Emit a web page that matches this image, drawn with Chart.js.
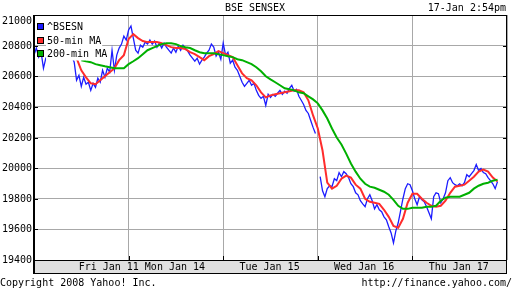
<!DOCTYPE html>
<html>
<head>
<meta charset="utf-8">
<script src="https://cdn.jsdelivr.net/npm/chart.js@4.4.0/dist/chart.umd.min.js"></script>
<style>
  html, body { margin: 0; padding: 0; background: #fff; }
  #wrap { width: 512px; height: 288px; }
</style>
</head>
<body>
<div id="wrap"><canvas id="chart" width="512" height="288"></canvas></div>
<script>
// time axis is in trading days since Fri Jan 11 open
const dayLabels = ["Fri Jan 11", "Mon Jan 14", "Tue Jan 15", "Wed Jan 16", "Thu Jan 17"];
const dayLabelPos = [0.79, 1.49, 2.49, 3.49, 4.49];
const yTicks = [19400, 19600, 19800, 20000, 20200, 20400, 20600, 20800, 21000];

const seriesNames = ["^BSESN", "50-min MA", "200-min MA"];
const seriesColors = ["#1c1cff", "#ff2c2c", "#00b000"];

// ^BSESN, sampled every 0.025 day
const blueStart = 0;
const blueStep = 0.025;
const blueValues = [
  20738, 20784, 20725, 20757, 20652, 20718, 20718,
  20738, 20757, 20731, 20751, 20725, 20744, 20731, 20738, 20725, 20731,
  20692, 20574, 20606, 20534, 20593, 20548, 20561, 20508, 20554, 20528,
  20587, 20561, 20639, 20593, 20652, 20626, 20770, 20639, 20738, 20784,
  20810, 20862, 20836, 20902, 20928, 20849, 20770, 20751, 20803, 20790,
  20823, 20810, 20836, 20810, 20830, 20790, 20816, 20784, 20816, 20790,
  20770, 20751, 20784, 20757, 20797, 20770, 20803, 20784, 20764, 20738,
  20718, 20698, 20718, 20679, 20705, 20725, 20751, 20770, 20810, 20790,
  20731, 20757, 20711, 20816, 20738, 20757, 20685, 20705, 20659, 20639,
  20600, 20561, 20534, 20554, 20574, 20541, 20554, 20508, 20475, 20456,
  20469, 20410, 20482, 20462, 20482, 20469, 20489, 20508, 20482, 20502,
  20489, 20521, 20541, 20502, 20515, 20469, 20443, 20416, 20377, 20357,
  20311, 20266, 20226, null, 19944, 19852, 19813, 19866, 19885, 19879,
  19931, 19918, 19971, 19944, 19977, 19964, 19938, 19898, 19879, 19839,
  19826, 19787, 19767, 19748, 19800, 19826, 19787, 19734, 19761, 19728,
  19715, 19682, 19662, 19617, 19577, 19512, 19590, 19643, 19721, 19800,
  19866, 19898, 19892, 19852, 19800, 19761, 19813, 19793, 19780, 19748,
  19708, 19669, 19813, 19839, 19833, 19774, 19800, 19839, 19918, 19938,
  19905, 19892, 19885, 19898, 19885, 19905, 19957, 19944, 19964, 19984,
  20023, 19984, 19997, 19971, 19964, 19938, 19918, 19898, 19866, 19912
];

// 50-min MA, every 0.05 day
const redStart = 0.45;
const redStep = 0.05;
const redValues = [
  20718, 20639, 20593, 20554, 20548, 20574, 20600, 20626, 20652, 20705,
  20738, 20843, 20875, 20849, 20830, 20823, 20823, 20823, 20816, 20803,
  20790, 20784, 20784, 20777, 20757, 20744, 20725, 20705, 20731, 20744,
  20764, 20751, 20738, 20725, 20672, 20619, 20587, 20574, 20541, 20495,
  20462, 20475, 20482, 20489, 20495, 20502, 20508, 20508, 20495, 20443,
  20344, 20259, 20115, 19905, 19866, 19885, 19931, 19951, 19938, 19892,
  19866, 19800, 19780, 19774, 19767, 19728, 19682, 19623, 19610, 19669,
  19774, 19833, 19833, 19800, 19774, 19754, 19748, 19754, 19787, 19839,
  19879, 19885, 19892, 19918, 19944, 19977, 19990, 19977, 19938, 19912
];

// 200-min MA, every 0.05 day
const greenStart = 0.5;
const greenStep = 0.05;
const greenValues = [
  20705, 20698, 20692, 20679, 20672, 20665, 20659, 20652, 20652, 20652,
  20679, 20698, 20718, 20744, 20770, 20784, 20797, 20810, 20816, 20816,
  20810, 20797, 20790, 20784, 20770, 20757, 20751, 20751, 20751, 20744,
  20738, 20731, 20725, 20711, 20705, 20692, 20679, 20659, 20633, 20600,
  20580, 20561, 20541, 20521, 20515, 20508, 20495, 20489, 20469, 20449,
  20423, 20377, 20324, 20259, 20200, 20154, 20095, 20030, 19977, 19931,
  19898, 19879, 19872, 19859, 19846, 19826, 19793, 19754, 19734, 19734,
  19741, 19741, 19741, 19748, 19748, 19754, 19787, 19807, 19813, 19813,
  19813, 19826, 19839, 19866, 19885, 19898, 19905, 19918, 19925
];

function toPoints(start, step, values) {
  return values.map((v, i) => ({ x: start + i * step, y: v }));
}

const FONT = '10px "DejaVu Sans Mono", monospace';

// frame, ticks, texts and legend drawn over the plot
const yahooFrame = {
  id: "yahooFrame",
  afterDraw(chart) {
    const { ctx, chartArea: a, scales } = chart;
    const xs = scales.x, ys = scales.y;
    const bandH = 13;
    ctx.save();

    // date band under plot
    ctx.fillStyle = "#e0e0e0";
    ctx.fillRect(a.left, a.bottom, a.right - a.left, bandH);

    ctx.strokeStyle = "#000";
    ctx.lineWidth = 1;
    ctx.beginPath();
    ctx.moveTo(a.left, a.top + 0.5);
    ctx.lineTo(a.right, a.top + 0.5);
    ctx.moveTo(a.left, a.bottom + 0.5);
    ctx.lineTo(a.right, a.bottom + 0.5);
    ctx.moveTo(a.left, a.bottom + bandH + 0.5);
    ctx.lineTo(a.right, a.bottom + bandH + 0.5);
    ctx.moveTo(a.right - 0.5, a.top);
    ctx.lineTo(a.right - 0.5, a.bottom + bandH + 1);
    ctx.stroke();
    ctx.fillStyle = "#000";
    ctx.fillRect(a.left - 1, a.top, 2, a.bottom + bandH + 1 - a.top);

    // small ticks inside the frame
    ctx.beginPath();
    yTicks.forEach((v) => {
      const py = Math.round(ys.getPixelForValue(v)) + 0.5;
      ctx.moveTo(a.left, py);
      ctx.lineTo(a.left + 4, py);
      ctx.moveTo(a.right - 4, py);
      ctx.lineTo(a.right, py);
    });
    for (let d = 1; d < dayLabels.length; d++) {
      const px = Math.round(xs.getPixelForValue(d)) + 0.5;
      ctx.moveTo(px, a.bottom - 4);
      ctx.lineTo(px, a.bottom);
    }
    ctx.stroke();

    ctx.font = FONT;
    ctx.fillStyle = "#000";
    ctx.textBaseline = "middle";

    // y labels
    ctx.textAlign = "right";
    yTicks.forEach((v) => {
      const py = Math.max(ys.getPixelForValue(v) + 0.5, a.top + 6.5);
      ctx.fillText(String(v), a.left - 2, py);
    });

    // day labels
    ctx.textAlign = "center";
    dayLabels.forEach((lab, i) => {
      ctx.fillText(lab, xs.getPixelForValue(dayLabelPos[i]), a.bottom + 7.5);
    });

    // title and time
    ctx.fillText("BSE SENSEX", 255, 8);
    ctx.textAlign = "right";
    ctx.fillText("17-Jan 2:54pm", 506, 8);

    // footer
    ctx.textAlign = "left";
    ctx.fillText("Copyright 2008 Yahoo! Inc.", 0, 283);
    ctx.textAlign = "right";
    ctx.fillText("http://finance.yahoo.com/", 512, 283);

    // legend, top left in plot
    ctx.textAlign = "left";
    seriesNames.forEach((name, i) => {
      const top = a.top + 8 + i * 13.5;
      const w = ctx.measureText(name).width;
      ctx.fillStyle = "#fff";
      ctx.fillRect(a.left + 12, Math.round(top) - 3, w + 2, 13.5);
      ctx.fillStyle = seriesColors[i];
      ctx.fillRect(a.left + 3, Math.round(top), 7, 7);
      ctx.strokeStyle = "#000";
      ctx.strokeRect(a.left + 3.5, Math.round(top) + 0.5, 6, 6);
      ctx.fillStyle = "#000";
      ctx.fillText(name, a.left + 13, Math.round(top) + 4);
    });

    ctx.restore();
  }
};

const ctx = document.getElementById("chart").getContext("2d");
new Chart(ctx, {
  type: "line",
  data: {
    datasets: [
      {
        label: seriesNames[0],
        data: toPoints(blueStart, blueStep, blueValues),
        borderColor: seriesColors[0],
        borderWidth: 1.3,
        order: 3,
      },
      {
        label: seriesNames[1],
        data: toPoints(redStart, redStep, redValues),
        borderColor: seriesColors[1],
        borderWidth: 2,
        order: 2,
      },
      {
        label: seriesNames[2],
        data: toPoints(greenStart, greenStep, greenValues),
        borderColor: seriesColors[2],
        borderWidth: 2,
        order: 1,
      },
    ],
  },
  options: {
    responsive: false,
    animation: false,
    spanGaps: false,
    elements: {
      point: { radius: 0 },
      line: { tension: 0, fill: false },
    },
    layout: { padding: { left: 34, right: 5, top: 15, bottom: 28 } },
    plugins: {
      legend: { display: false },
      tooltip: { enabled: false },
    },
    scales: {
      x: {
        type: "linear",
        min: 0,
        max: 5,
        ticks: { display: false, stepSize: 1 },
        grid: { color: "#a8a8a8", drawTicks: false },
        border: { display: false },
      },
      y: {
        min: 19400,
        max: 21000,
        ticks: { display: false, stepSize: 200 },
        grid: { color: "#a8a8a8", drawTicks: false },
        border: { display: false },
      },
    },
  },
  plugins: [yahooFrame],
});
</script>
</body>
</html>
